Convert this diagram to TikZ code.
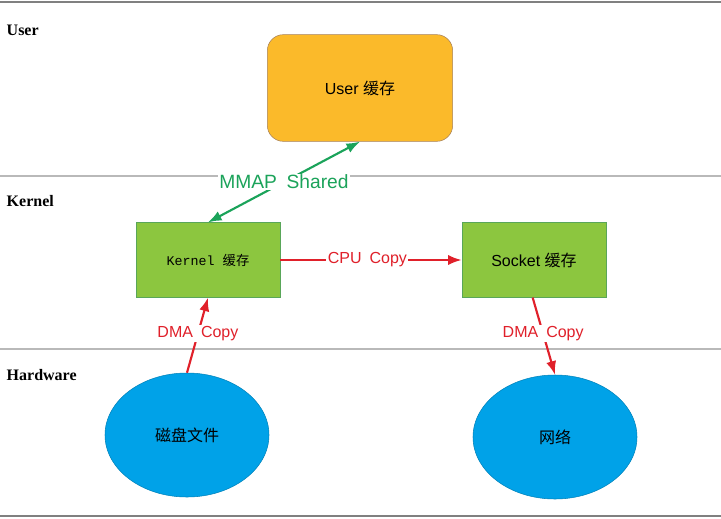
\documentclass[tikz,border=0pt]{standalone}
\usepackage{fontspec}
\setmainfont{Liberation Sans}
\newfontfamily\cjk{Noto Sans CJK SC}
\newfontfamily\monofont{Liberation Mono}
\newfontfamily\layerfont{Liberation Serif}
\usetikzlibrary{arrows.meta,shapes.geometric,positioning}
\definecolor{userfill}{HTML}{FBBA2A}
\definecolor{bufgreen}{HTML}{8CC63F}
\definecolor{diskblue}{HTML}{00A2E8}
\definecolor{copyred}{HTML}{E0202A}
\definecolor{mmapgreen}{HTML}{1BA35A}
\begin{document}
\begin{tikzpicture} [x=0.75pt, y=-0.75pt,
    >=Latex,
    layer line/.style={draw=gray!55, line width=1.2pt},
    layer label/.style={anchor=west, font=\layerfont\bfseries\large},
    buf node/.style={rectangle, fill=bufgreen, draw=gray!70!green,
        minimum width=108pt, minimum height=56pt, align=center},
    hw node/.style={ellipse, fill=diskblue, draw=diskblue!80!black,
        minimum width=123pt, minimum height=93pt},
    copy arrow/.style={->, draw=copyred, line width=1.6pt},
    copy label/.style={fill=white, text=copyred, inner sep=1pt, font=\large}
  ]

  \useasboundingbox (0,0) rectangle (721,518);
  \draw[draw=gray, line width=1.5pt] (0,2) -- (721,2);
  \draw[draw=gray, line width=1.5pt] (0,516) -- (721,516);
  \draw[layer line] (0,176) -- (721,176);
  \draw[layer line] (0,349) -- (721,349);

  \node[layer label] (luser) at (2,30) {User};
  \node[layer label] (lkernel) at (2,201) {Kernel};
  \node[layer label] (lhw) at (2,375) {Hardware};

  \node [rectangle, rounded corners=12pt, fill=userfill, draw=gray!70!orange,
    minimum width=139pt, minimum height=80pt
  ] (userbuf) at (360,88) {\large User {\cjk 缓存}};

  \node [buf node] (kernelbuf) at (208,260) {\monofont Kernel {\cjk 缓存}};
  \node [buf node] (socketbuf) at (534,260) {\large Socket {\cjk 缓存}};

  \node [hw node] (disk) at (187,435) {\large\cjk 磁盘文件};
  \node [hw node] (net) at (555,437) {\large\cjk 网络};

  %%%%%%%%%%%%%%%%%%%%%%%%%%%%%%

  \draw [<->, draw=mmapgreen, line width=1.6pt] (kernelbuf.north) -- (userbuf.south)
  node [pos=0.5, fill=white, text=mmapgreen, inner sep=1pt, font=\Large] (mmap) {MMAP\hspace{0.5em}Shared};
  \draw [copy arrow] (kernelbuf.east) -- (socketbuf.west)
  node [pos=0.48, copy label] (cpu) {CPU\hspace{0.5em}Copy};
  \draw [copy arrow] (disk.north) -- (kernelbuf.south)
  node [pos=0.52, copy label] (dma1) {DMA\hspace{0.5em}Copy};
  \draw [copy arrow] ([xshift=-1pt]socketbuf.south) -- (net.north)
  node [pos=0.47, copy label] (dma2) {DMA\hspace{0.5em}Copy};

\end{tikzpicture}
\end{document}
